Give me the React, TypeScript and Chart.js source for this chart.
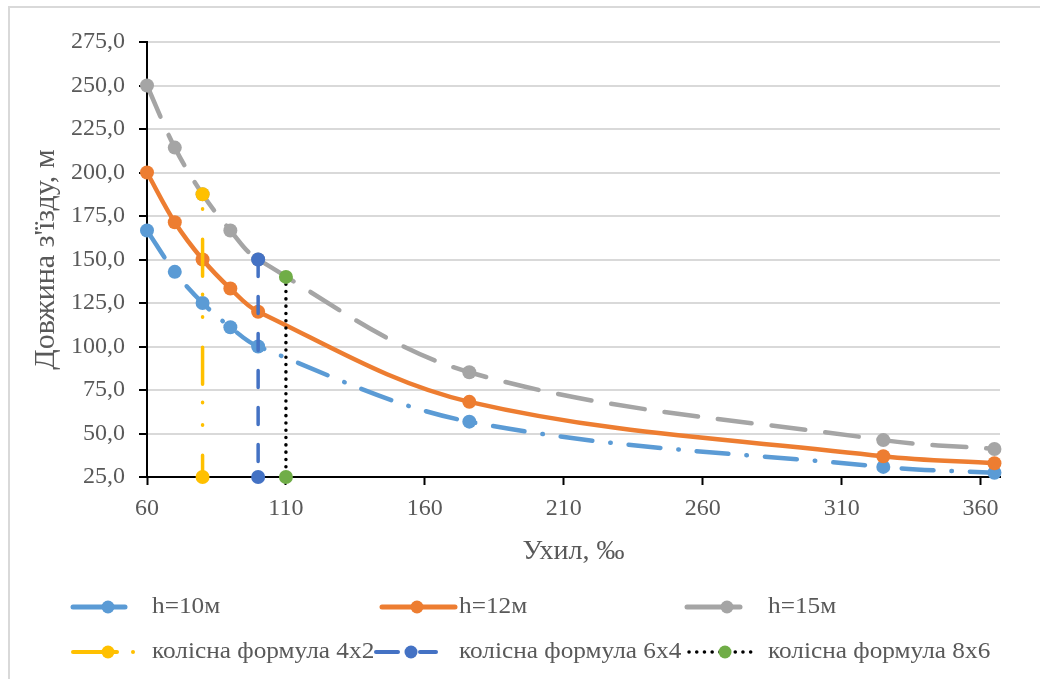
import React, { useEffect, useRef } from "react";
import { Chart, registerables } from "chart.js";

Chart.register(...registerables);

// ---- Data ----
const slopes = [60, 70, 80, 90, 100, 176, 325, 365];
const h10 = [166.7, 142.9, 125.0, 111.1, 100.0, 56.8, 30.8, 27.4];
const h12 = [200.0, 171.4, 150.0, 133.3, 120.0, 68.2, 36.9, 32.9];
const h15 = [250.0, 214.3, 187.5, 166.7, 150.0, 85.2, 46.2, 41.1];

const wheel4x2X = [80, 80];
const wheel4x2Y = [187.5, 25];
const wheel6x4X = [100, 100];
const wheel6x4Y = [150, 25];
const wheel8x6X = [110, 110];
const wheel8x6Y = [140, 25];

const seriesNames = [
  "h=10м",
  "h=12м",
  "h=15м",
  "колісна формула 4x2",
  "колісна формула 6x4",
  "колісна формула 8x6",
];

const xTicks = [60, 110, 160, 210, 260, 310, 360];
const yTickStep = 25;
const xTitle = "Ухил, ‰";
const yTitle = "Довжина з'їзду, м";

const FONT = '"Liberation Serif", "Times New Roman", serif';
const TXT = "#595959";

const C_BLUE = "#5B9BD5";
const C_ORANGE = "#ED7D31";
const C_GRAY = "#A5A5A5";
const C_YELLOW = "#FFC000";
const C_DBLUE = "#4472C4";
const C_GREEN = "#70AD47";

const pts = (xs: number[], ys: number[]) => xs.map((x, i) => ({ x, y: ys[i] }));

const CANVAS_W = 1040;
const CANVAS_H = 600;

export default function App() {
  const ref = useRef<HTMLCanvasElement>(null);

  useEffect(() => {
    if (!ref.current) return;
    const common = { clip: false as any, pointBorderWidth: 0 };
    const chart = new Chart(ref.current, {
      type: "line",
      data: {
        datasets: [
          {
            ...common,
            label: seriesNames[0],
            data: pts(slopes, h10),
            borderColor: C_BLUE,
            backgroundColor: C_BLUE,
            pointBackgroundColor: C_BLUE,
            borderWidth: 4.5,
            borderDash: [32, 18, 0.5, 18],
            borderCapStyle: "round",
            pointRadius: 7,
            tension: 0.35,
            order: 6,
          },
          {
            ...common,
            label: seriesNames[1],
            data: pts(slopes, h12),
            borderColor: C_ORANGE,
            backgroundColor: C_ORANGE,
            pointBackgroundColor: C_ORANGE,
            borderWidth: 4.5,
            pointRadius: 7,
            tension: 0.35,
            order: 5,
          },
          {
            ...common,
            label: seriesNames[2],
            data: pts(slopes, h15),
            borderColor: C_GRAY,
            backgroundColor: C_GRAY,
            pointBackgroundColor: C_GRAY,
            borderWidth: 4.5,
            borderDash: [34, 20],
            borderCapStyle: "round",
            pointRadius: 7,
            tension: 0.35,
            order: 4,
          },
          {
            ...common,
            label: seriesNames[3],
            data: pts(wheel4x2X, wheel4x2Y),
            borderColor: C_YELLOW,
            backgroundColor: C_YELLOW,
            pointBackgroundColor: C_YELLOW,
            borderWidth: 3.5,
            borderDash: [37, 18, 0.5, 22, 0.5, 30],
            borderDashOffset: 63,
            borderCapStyle: "round",
            pointRadius: 7,
            tension: 0,
            order: 3,
          },
          {
            ...common,
            label: seriesNames[4],
            data: pts(wheel6x4X, wheel6x4Y),
            borderColor: C_DBLUE,
            backgroundColor: C_DBLUE,
            pointBackgroundColor: C_DBLUE,
            borderWidth: 3.5,
            borderDash: [17, 20],
            borderCapStyle: "round",
            pointRadius: 7,
            tension: 0,
            order: 2,
          },
          {
            ...common,
            label: seriesNames[5],
            data: pts(wheel8x6X, wheel8x6Y),
            borderColor: "#000000",
            backgroundColor: C_GREEN,
            pointBackgroundColor: C_GREEN,
            borderWidth: 3.5,
            borderDash: [0.1, 7.2],
            borderCapStyle: "round",
            pointRadius: 7,
            tension: 0,
            order: 1,
          },
        ],
      },
      options: {
        responsive: false,
        animation: false,
        events: [],
        layout: { padding: { left: 10, top: 42, right: 40, bottom: 0 } },
        plugins: {
          legend: { display: false },
          tooltip: { enabled: false },
        },
        scales: {
          x: {
            type: "linear",
            min: 60,
            max: 367,
            afterBuildTicks: (s: any) => {
              s.ticks = xTicks.map((v) => ({ value: v }));
            },
            afterFit: (s: any) => {
              s.height = CANVAS_H - 477;
            },
            grid: {
              drawOnChartArea: false,
              drawTicks: true,
              tickLength: 8,
              tickColor: "#000",
              tickWidth: 2,
            },
            border: { color: "#000", width: 2 },
            ticks: {
              font: { family: FONT, size: 24 },
              color: TXT,
              padding: 9,
              maxRotation: 0,
              autoSkip: false,
              callback: (v: any) => String(v),
            },
            title: {
              display: true,
              text: xTitle,
              font: { family: FONT, size: 28 },
              color: TXT,
              padding: { top: 0, bottom: 32 },
            },
          },
          y: {
            type: "linear",
            min: 25,
            max: 275,
            afterFit: (s: any) => {
              s.width = 137;
            },
            grid: {
              color: "#D9D9D9",
              lineWidth: 2,
              drawTicks: true,
              tickLength: 8,
              tickColor: "#000",
              tickWidth: 2,
            },
            border: { color: "#000", width: 2 },
            ticks: {
              stepSize: yTickStep,
              font: { family: FONT, size: 24 },
              color: TXT,
              padding: 14,
              callback: (v: any) => Number(v).toFixed(1).replace(".", ","),
            },
            title: {
              display: true,
              text: yTitle,
              font: { family: FONT, size: 30 },
              color: TXT,
              padding: { top: 18, bottom: 0 },
            },
          },
        },
      },
    } as any);
    return () => chart.destroy();
  }, []);

  const r1 = 607;
  const r2 = 652;
  const textStyle = (left: number, y: number): React.CSSProperties => ({
    position: "absolute",
    left,
    top: y - 16,
    lineHeight: "30px",
    fontSize: 23,
    fontFamily: FONT,
    color: TXT,
    whiteSpace: "nowrap",
    transform: "scaleX(1.1)",
    transformOrigin: "0 50%",
  });

  return (
    <div
      style={{
        position: "fixed",
        left: 0,
        top: 0,
        width: 1040,
        height: 679,
        background: "#fff",
        overflow: "hidden",
      }}
    >
      <div
        style={{
          position: "absolute",
          left: 8,
          top: 6,
          width: 1040,
          height: 700,
          border: "2px solid #D9D9D9",
          boxSizing: "border-box",
        }}
      />
      <canvas
        ref={ref}
        width={CANVAS_W}
        height={CANVAS_H}
        style={{ position: "absolute", left: 0, top: 0, display: "block" }}
      />
      <svg
        width={1040}
        height={679}
        style={{ position: "absolute", left: 0, top: 0 }}
      >
        {/* h=10 */}
        <line x1={73} y1={r1} x2={125} y2={r1} stroke={C_BLUE} strokeWidth={5} strokeLinecap="round" />
        <circle cx={108} cy={r1} r={6.5} fill={C_BLUE} />
        {/* h=12 */}
        <line x1={382} y1={r1} x2={455} y2={r1} stroke={C_ORANGE} strokeWidth={5} strokeLinecap="round" />
        <circle cx={417} cy={r1} r={6.5} fill={C_ORANGE} />
        {/* h=15 */}
        <line x1={687} y1={r1} x2={740} y2={r1} stroke={C_GRAY} strokeWidth={5} strokeLinecap="round" />
        <circle cx={727} cy={r1} r={6.5} fill={C_GRAY} />
        {/* 4x2 */}
        <line x1={73} y1={r2} x2={117} y2={r2} stroke={C_YELLOW} strokeWidth={4} strokeLinecap="round" />
        <circle cx={108} cy={r2} r={6.5} fill={C_YELLOW} />
        <circle cx={133} cy={r2} r={2} fill={C_YELLOW} />
        {/* 6x4 */}
        <line x1={376} y1={r2} x2={398} y2={r2} stroke={C_DBLUE} strokeWidth={4} strokeLinecap="round" />
        <line x1={420} y1={r2} x2={436} y2={r2} stroke={C_DBLUE} strokeWidth={4} strokeLinecap="round" />
        <circle cx={411} cy={r2} r={6.5} fill={C_DBLUE} />
        {/* 8x6 */}
        <line x1={689} y1={r2} x2={758} y2={r2} stroke="#000" strokeWidth={3.5} strokeLinecap="round" strokeDasharray="0.1 7.6" />
        <circle cx={725} cy={r2} r={6.5} fill={C_GREEN} />
      </svg>
      <div style={textStyle(152, r1)}>{seriesNames[0]}</div>
      <div style={textStyle(459, r1)}>{seriesNames[1]}</div>
      <div style={textStyle(768, r1)}>{seriesNames[2]}</div>
      <div style={textStyle(152, r2)}>{seriesNames[3]}</div>
      <div style={textStyle(459, r2)}>{seriesNames[4]}</div>
      <div style={textStyle(768, r2)}>{seriesNames[5]}</div>
    </div>
  );
}
